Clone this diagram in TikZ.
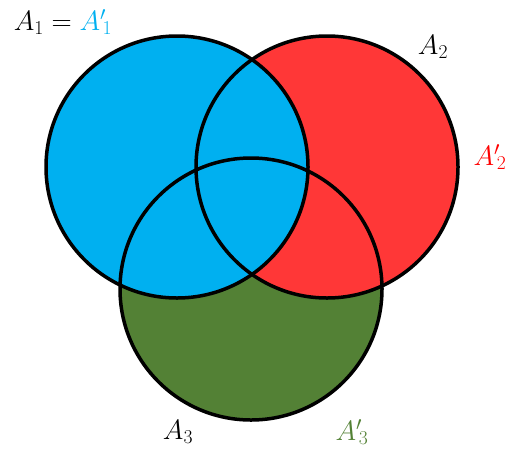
\RequirePackage{fix-cm}
\documentclass[tikz,border=0pt]{standalone}
\usepackage{fontspec}
\definecolor{cblue}{HTML}{00B0F0}
\definecolor{cred}{HTML}{FF3737}
\definecolor{cgreen}{HTML}{538135}
\definecolor{lred}{HTML}{FF0000}
\begin{document}
\begin{tikzpicture}[x=1pt,y=-1pt,
  setline/.style={line width=3.5pt,draw=black},
  lab/.style={inner sep=0pt,font=\fontsize{28}{32}\selectfont}]
\useasboundingbox (0,0) rectangle (510,450);
\coordinate (c1) at (177,167);
\coordinate (c2) at (327,167);
\coordinate (c3) at (251,289);
\fill[cgreen] (c3) circle[radius=131];
\fill[cred] (c2) circle[radius=131];
\fill[cblue] (c1) circle[radius=131];
\draw[setline] (c1) circle[radius=131];
\draw[setline] (c2) circle[radius=131];
\draw[setline] (c3) circle[radius=131];
\node[lab] (l1) at (63,22) {$A_1 = \textcolor{cblue}{{A'}_{\!1}}$};
\node[lab] (l2) at (433,47) {$A_2$};
\node[lab,text=lred] (l2p) at (490,157) {${A'}_{\!2}$};
\node[lab] (l3) at (178,432) {$A_3$};
\node[lab,text=cgreen] (l3p) at (352,432) {${A'}_{\!3}$};
\end{tikzpicture}
\end{document}
